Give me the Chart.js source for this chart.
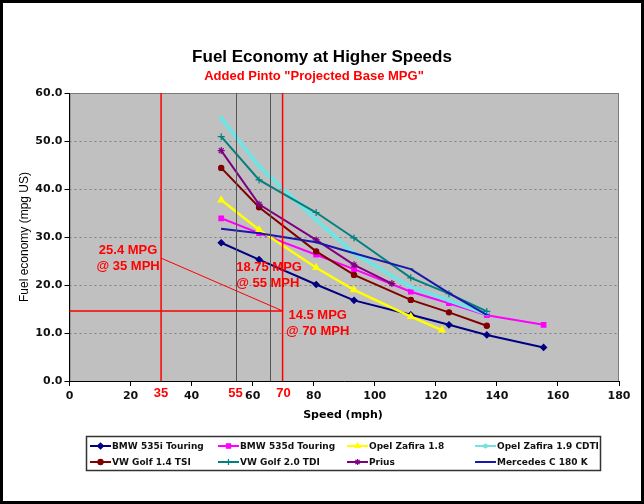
<!DOCTYPE html>
<html>
<head>
<meta charset="utf-8">
<script src="https://cdn.jsdelivr.net/npm/chart.js@4.4.0/dist/chart.umd.min.js"></script>
<style>
  html, body { margin: 0; padding: 0; background: #fff; }
  canvas { display: block; }
</style>
</head>
<body>
<canvas id="chart" width="644" height="504"></canvas>
<script>
// speeds in mph (80, 100, 130, 150, 180, 200, 220, 250 km/h)
const speeds = [49.7, 62.1, 80.8, 93.2, 111.8, 124.3, 136.7, 155.3];
const speedsZafira18 = [49.7, 62.1, 80.8, 93.2, 111.8, 122];
const speedsPrius = [49.7, 62.1, 80.8, 93.2, 105.6];

// mpg (US) per car
const bmw535i = [28.8, 25.3, 20.1, 16.8, 13.8, 11.7, 9.6, 7.0];
const bmw535d = [33.9, 30.8, 26.3, 23.3, 18.6, 16.2, 13.7, 11.7];
const zafira18 = [37.7, 31.5, 23.6, 19.0, 13.4, 10.6];
const zafiraCdti = [54.8, 44.7, 33.6, 26.6, 19.6, 16.8, 14.0];
const golfTsi = [44.4, 36.2, 27.0, 22.1, 16.9, 14.3, 11.5];
const golfTdi = [50.9, 41.9, 35.1, 29.8, 21.5, 18.2, 14.5];
const prius = [48.0, 36.8, 29.4, 24.2, 20.3];
const mercedes = [31.7, 30.8, 28.9, 26.6, 23.3, 18.3, 13.8];

const xTicks = { min: 0, max: 180, step: 20 };
const yTicks = { min: 0, max: 60, step: 10 };

// the hand-drawn Pinto notes (in mph / mpg)
const redMarks = [30, 69.8];
const grayMarks = [54.4, 65.8];
const redMarkLabels = ['35', '70'];
const grayMarkLabel = '55';
const pintoLevel = 14.6;
const pintoSlope = [[30, 25.6], [69.8, 14.6]];
const notes = [
  { x: 19.2, y: 27.1, text: '25.4 MPG', align: 'center' },
  { x: 19.2, y: 23.8, text: '@ 35 MPH', align: 'center' },
  { x: 54.6, y: 23.6, text: '18.75 MPG', align: 'left' },
  { x: 54.6, y: 20.4, text: '@ 55 MPH', align: 'left' },
  { x: 81.3, y: 13.6, text: '14.5 MPG', align: 'center' },
  { x: 81.3, y: 10.3, text: '@ 70 MPH', align: 'center' }
];

const series = [
  { label: 'BMW 535i Touring', xs: speeds, ys: bmw535i, color: '#000080', style: 'rectRot', r: 3, w: 2 },
  { label: 'BMW 535d Touring', xs: speeds, ys: bmw535d, color: '#ff00ff', style: 'rect', r: 3.2, w: 2 },
  { label: 'Opel Zafira 1.8', xs: speedsZafira18, ys: zafira18, color: '#ffff00', style: 'triangle', r: 3.6, w: 2.5 },
  { label: 'Opel Zafira 1.9 CDTI', xs: speeds, ys: zafiraCdti, color: '#72e2e2', style: 'star', r: 2.5, w: 4 },
  { label: 'VW Golf 1.4 TSI', xs: speeds, ys: golfTsi, color: '#800000', style: 'circle', r: 2.6, w: 2 },
  { label: 'VW Golf 2.0 TDI', xs: speeds, ys: golfTdi, color: '#008080', style: 'cross', r: 3.5, w: 2 },
  { label: 'Prius', xs: speedsPrius, ys: prius, color: '#800080', style: 'star', r: 3.5, w: 2 },
  { label: 'Mercedes C 180 K', xs: speeds, ys: mercedes, color: '#1818aa', style: 'dash', r: 2.5, w: 2 }
];

const datasets = series.map((s, i) => ({
  label: s.label,
  data: s.ys.map((v, j) => ({ x: s.xs[j], y: v })),
  showLine: true,
  borderColor: s.color,
  backgroundColor: s.color,
  borderWidth: s.w,
  pointStyle: s.style,
  pointRadius: s.r,
  pointBorderWidth: 1.2,
  pointBorderColor: s.color,
  pointBackgroundColor: s.color,
  tension: 0,
  order: series.length - 1 - i   // later series on top, like Excel
}));

const tickFont = { family: 'DejaVu Sans', weight: 'bold', size: 11 };

// grey plot area + dotted grid
const plotBg = {
  id: 'plotBg',
  beforeDraw(chart) {
    const { ctx, chartArea: a, scales: { y } } = chart;
    ctx.save();
    ctx.fillStyle = '#fff';
    ctx.fillRect(0, 0, chart.width, chart.height);
    ctx.fillStyle = '#c0c0c0';
    ctx.fillRect(a.left, a.top, a.right - a.left, a.bottom - a.top);
    ctx.strokeStyle = '#808080';
    ctx.lineWidth = 1;
    ctx.setLineDash([2, 3]);
    y.ticks.forEach(t => {
      if (t.value === yTicks.min || t.value === yTicks.max) return;
      const py = Math.round(y.getPixelForValue(t.value)) + 0.5;
      ctx.beginPath(); ctx.moveTo(a.left, py); ctx.lineTo(a.right, py); ctx.stroke();
    });
    ctx.setLineDash([]);
    ctx.strokeStyle = '#7a7a7a';
    ctx.strokeRect(a.left + 0.5, a.top + 0.5, a.right - a.left - 1, a.bottom - a.top);
    ctx.restore();
  }
};

// Pinto lines and notes, titles, legend, frame
const extras = {
  id: 'extras',
  afterDatasetsDraw(chart) {
    const { ctx, chartArea: a, scales: { x, y } } = chart;
    ctx.save();
    ctx.lineWidth = 1;
    ctx.strokeStyle = '#555';
    grayMarks.forEach(v => {
      const px = Math.round(x.getPixelForValue(v)) + 0.5;
      ctx.beginPath(); ctx.moveTo(px, a.top); ctx.lineTo(px, a.bottom); ctx.stroke();
    });
    ctx.strokeStyle = '#ff0000';
    ctx.lineWidth = 1.5;
    redMarks.forEach(v => {
      const px = x.getPixelForValue(v);
      ctx.beginPath(); ctx.moveTo(px, a.top); ctx.lineTo(px, a.bottom); ctx.stroke();
    });
    const ly = y.getPixelForValue(pintoLevel);
    ctx.beginPath(); ctx.moveTo(a.left, ly); ctx.lineTo(x.getPixelForValue(redMarks[1]), ly); ctx.stroke();
    ctx.lineWidth = 1;
    ctx.beginPath();
    ctx.moveTo(x.getPixelForValue(pintoSlope[0][0]), y.getPixelForValue(pintoSlope[0][1]));
    ctx.lineTo(x.getPixelForValue(pintoSlope[1][0]), y.getPixelForValue(pintoSlope[1][1]));
    ctx.stroke();

    ctx.fillStyle = '#ff0000';
    ctx.font = 'bold 13px "Liberation Sans", Arial, sans-serif';
    ctx.textBaseline = 'middle';
    notes.forEach(n => {
      ctx.textAlign = n.align;
      ctx.fillText(n.text, x.getPixelForValue(n.x), y.getPixelForValue(n.y));
    });
    ctx.textAlign = 'center';
    ctx.fillText(redMarkLabels[0], x.getPixelForValue(redMarks[0]), a.bottom + 12);
    ctx.fillText(redMarkLabels[1], x.getPixelForValue(redMarks[1]) + 1, a.bottom + 12);
    ctx.fillText(grayMarkLabel, x.getPixelForValue(grayMarks[0]), a.bottom + 12);
    ctx.restore();
  },
  afterDraw(chart) {
    const { ctx, chartArea: a } = chart;
    ctx.save();
    ctx.textAlign = 'center';
    ctx.textBaseline = 'middle';
    ctx.fillStyle = '#000';
    ctx.font = 'bold 17px "Liberation Sans", Arial, sans-serif';
    ctx.fillText('Fuel Economy at Higher Speeds', 322, 57);
    ctx.fillStyle = '#ff0000';
    ctx.font = 'bold 13px "Liberation Sans", Arial, sans-serif';
    ctx.fillText('Added Pinto "Projected Base MPG"', 314, 76);
    ctx.fillStyle = '#000';
    ctx.font = 'bold 11px "DejaVu Sans", sans-serif';
    ctx.fillText('Speed (mph)', 343, 415);
    ctx.save();
    ctx.translate(25, (a.top + a.bottom) / 2);
    ctx.rotate(-Math.PI / 2);
    ctx.font = '12px "Liberation Sans", Arial, sans-serif';
    ctx.fillText('Fuel economy (mpg US)', 0, 0);
    ctx.restore();

    // legend, 4 columns x 2 rows
    ctx.fillStyle = '#fff';
    ctx.fillRect(87, 437, 513, 33);
    ctx.strokeStyle = '#333';
    ctx.lineWidth = 1.5;
    ctx.strokeRect(86.5, 436.5, 514, 34);
    const cols = [90, 218, 347, 475];
    const rows = [446, 462];
    ctx.textAlign = 'left';
    ctx.font = 'bold 9px "DejaVu Sans", sans-serif';
    series.forEach((s, i) => {
      const x0 = cols[i % 4], yy = rows[Math.floor(i / 4)];
      ctx.strokeStyle = s.color;
      ctx.lineWidth = 2;
      ctx.beginPath(); ctx.moveTo(x0, yy); ctx.lineTo(x0 + 21, yy); ctx.stroke();
      ctx.fillStyle = s.color;
      ctx.lineWidth = 1.2;
      Chart.helpers.drawPoint(ctx, { pointStyle: s.style, radius: Math.min(s.r, 3), rotation: 0, borderWidth: 1.2 }, x0 + 10.5, yy);
      ctx.fillStyle = '#111';
      ctx.fillText(s.label, x0 + 22, yy + 0.5);
    });

    ctx.strokeStyle = '#000';
    ctx.lineWidth = 3;
    ctx.strokeRect(1.5, 1.5, chart.width - 3, chart.height - 3);
    ctx.restore();
  }
};

new Chart(document.getElementById('chart'), {
  type: 'scatter',
  data: { datasets },
  options: {
    responsive: false,
    animation: false,
    layout: { padding: { left: 0, top: 93, right: 25, bottom: 0 } },
    plugins: {
      legend: { display: false },
      tooltip: { enabled: false },
      title: { display: false }
    },
    scales: {
      x: {
        type: 'linear',
        min: xTicks.min, max: xTicks.max,
        ticks: { stepSize: xTicks.step, font: tickFont, color: '#111', padding: 4, maxRotation: 0 },
        grid: { drawOnChartArea: false, tickLength: 5, tickColor: '#000' },
        border: { color: '#000', width: 1 },
        afterFit: s => { s.height = 123; }
      },
      y: {
        min: yTicks.min, max: yTicks.max,
        ticks: { stepSize: yTicks.step, font: tickFont, color: '#111', padding: 2, callback: v => v.toFixed(1) },
        grid: { drawOnChartArea: false, tickLength: 5, tickColor: '#000' },
        border: { color: '#000', width: 1 },
        afterFit: s => { s.width = 69.5; }
      }
    }
  },
  plugins: [plotBg, extras]
});
</script>
</body>
</html>
